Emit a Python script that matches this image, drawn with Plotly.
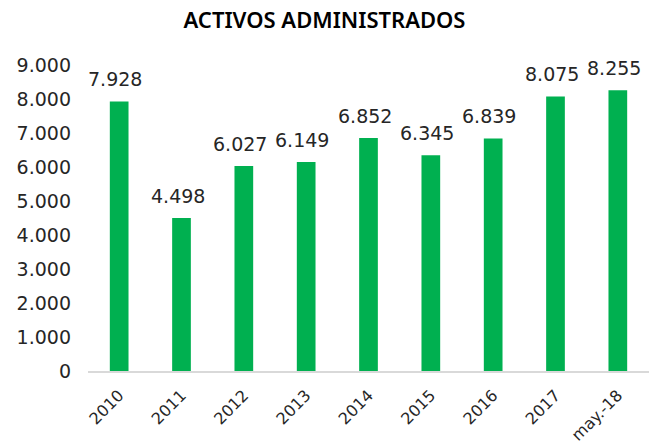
import plotly.graph_objects as go

# Activos administrados por año
periodos = ["2010", "2011", "2012", "2013", "2014", "2015", "2016", "2017", "may.-18"]
activos = [7928, 4498, 6027, 6149, 6852, 6345, 6839, 8075, 8255]

verde = "#00B050"
texto = "#262626"
fuente = "DejaVu Sans"


def miles(v):
    return f"{v:,}".replace(",", ".")


fig = go.Figure(
    go.Bar(
        x=periodos,
        y=activos,
        marker=dict(color=verde, line=dict(width=0)),
        hovertemplate="%{x}: %{y:,.0f}<extra></extra>",
    )
)

# Etiquetas de valor sobre cada barra (posición por índice de categoría)
for i, v in enumerate(activos):
    fig.add_annotation(
        x=i,
        y=v,
        xref="x",
        yref="y",
        text=miles(v),
        showarrow=False,
        yanchor="bottom",
        yshift=9,
        xshift=-4,
        font=dict(family=fuente, size=19, color=texto),
    )

fig.update_layout(
    width=649,
    height=447,
    margin=dict(l=88, r=0, t=65, b=76),
    paper_bgcolor="white",
    plot_bgcolor="white",
    separators=",.",
    bargap=0.70,
    showlegend=False,
    title=dict(
        text="ACTIVOS ADMINISTRADOS",
        x=0.5,
        xanchor="center",
        xref="container",
        y=0.955,
        yanchor="middle",
        font=dict(family="Noto Sans", size=22, color="#000000", weight=600),
    ),
    xaxis=dict(
        type="category",
        categoryorder="array",
        categoryarray=periodos,
        range=[-0.5, len(periodos) - 0.5],
        tickangle=-45,
        tickfont=dict(family=fuente, size=16, color=texto),
        ticklabelstandoff=7,
        showline=True,
        linecolor="#D9D9D9",
        linewidth=1.5,
        ticks="",
        showgrid=False,
    ),
    yaxis=dict(
        range=[0, 9000],
        dtick=1000,
        tickformat=",.0f",
        tickfont=dict(family=fuente, size=19, color=texto),
        showgrid=False,
        zeroline=False,
        showline=False,
        ticks="",
        ticklabelstandoff=16,
    ),
)

fig.write_html("out.html")
